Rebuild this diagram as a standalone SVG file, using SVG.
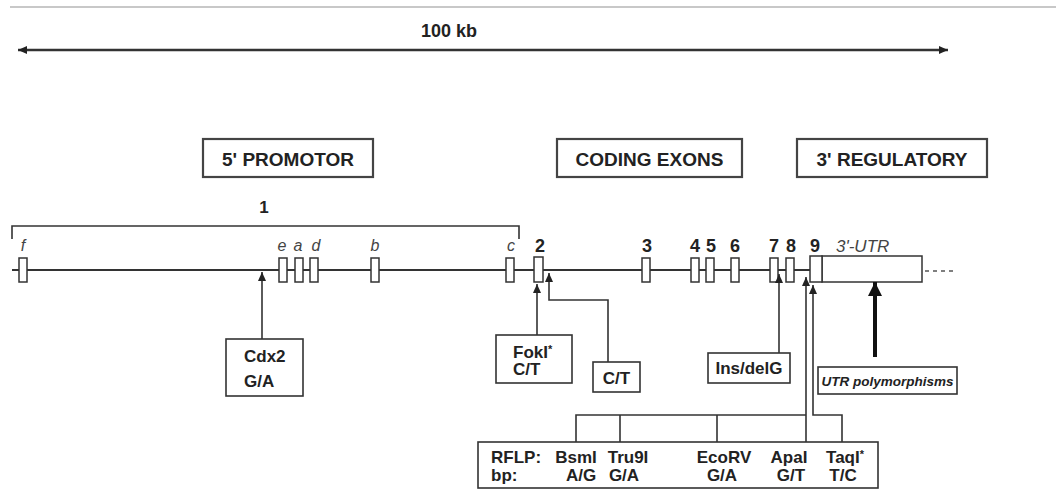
<svg xmlns="http://www.w3.org/2000/svg" width="1056" height="490" viewBox="0 0 1056 490">
<defs>
<marker id="ah" markerUnits="userSpaceOnUse" markerWidth="9" markerHeight="8" refX="9" refY="4" orient="auto-start-reverse"><path d="M0,0 L9,4 L0,8 z" fill="#222"/></marker>
<marker id="ahb" markerUnits="userSpaceOnUse" markerWidth="14" markerHeight="14" refX="14" refY="7" orient="auto"><path d="M0,0 L14,7 L0,14 z" fill="#111"/></marker>
<style>
.t{font-family:"Liberation Sans",Arial,sans-serif;font-weight:bold;fill:#222}
.h{font-size:19px}
.m{font-size:17px}
.n{font-size:18px}
.sup{font-size:11px}
.it{font-family:"Liberation Sans",Arial,sans-serif;font-style:italic;fill:#444}
.box{fill:#fff;stroke:#333;stroke-width:1.6}
.hbox{fill:#fff;stroke:#444;stroke-width:2.2}
.ex{fill:#fff;stroke:#333;stroke-width:1.5}
.ln{fill:none;stroke:#333;stroke-width:1.6}
</style>
</defs>
<rect width="1056" height="490" fill="#fff"/>
<line x1="10" y1="7" x2="1056" y2="7" stroke="#c8c8c8" stroke-width="2"/>
<g id="scale">
<line x1="18" y1="50" x2="948" y2="50" stroke="#333" stroke-width="2.5" marker-start="url(#ah)" marker-end="url(#ah)"/>
<text class="t n" x="449" y="37" text-anchor="middle">100 kb</text>
</g>
<g id="promotor"><rect class="hbox" x="203" y="139" width="170" height="38"/><text class="t h" x="288" y="166" text-anchor="middle">5' PROMOTOR</text></g>
<g id="coding"><rect class="hbox" x="557" y="139" width="185" height="38"/><text class="t h" x="649.5" y="166" text-anchor="middle">CODING EXONS</text></g>
<g id="regulatory"><rect class="hbox" x="797" y="139" width="190" height="38"/><text class="t h" x="892" y="166" text-anchor="middle">3' REGULATORY</text></g>
<g id="bracket1">
<path class="ln" d="M12,239 V226 H519 V239"/>
<text class="t m" x="264" y="213" text-anchor="middle">1</text>
</g>
<g id="gene">
<line x1="12" y1="270" x2="810" y2="270" stroke="#333" stroke-width="1.8"/>
<line x1="925" y1="271" x2="953" y2="271" stroke="#555" stroke-width="1.5" stroke-dasharray="4,4"/>
<rect class="ex" x="19" y="258" width="8" height="24"/>
<rect class="ex" x="279" y="258" width="8" height="24"/>
<rect class="ex" x="295" y="258" width="8" height="24"/>
<rect class="ex" x="310" y="258" width="8" height="24"/>
<rect class="ex" x="371" y="258" width="8" height="24"/>
<rect class="ex" x="506" y="258" width="8" height="24"/>
<rect class="ex" x="534" y="257" width="9" height="25"/>
<rect class="ex" x="642" y="258" width="8" height="24"/>
<rect class="ex" x="691" y="258" width="8" height="24"/>
<rect class="ex" x="706" y="258" width="8" height="24"/>
<rect class="ex" x="731" y="258" width="8" height="24"/>
<rect class="ex" x="770" y="258" width="8" height="24"/>
<rect class="ex" x="786" y="258" width="8" height="24"/>
<rect class="ex" x="822" y="256" width="100" height="26"/>
<rect class="ex" x="810" y="256" width="12" height="26"/>
<g font-size="16">
<text class="it" x="23" y="251" text-anchor="middle">f</text>
<text class="it" x="282" y="251" text-anchor="middle">e</text>
<text class="it" x="298" y="251" text-anchor="middle">a</text>
<text class="it" x="316" y="251" text-anchor="middle">d</text>
<text class="it" x="375" y="251" text-anchor="middle">b</text>
<text class="it" x="511" y="251" text-anchor="middle">c</text>
</g>
<text class="t n" x="540" y="252" text-anchor="middle">2</text>
<text class="t n" x="647" y="252" text-anchor="middle">3</text>
<text class="t n" x="695" y="252" text-anchor="middle">4</text>
<text class="t n" x="711" y="252" text-anchor="middle">5</text>
<text class="t n" x="735" y="252" text-anchor="middle">6</text>
<text class="t n" x="774" y="252" text-anchor="middle">7</text>
<text class="t n" x="791" y="252" text-anchor="middle">8</text>
<text class="t n" x="815" y="252" text-anchor="middle">9</text>
<text class="it" x="836" y="252" font-size="17">3'-UTR</text>
</g>
<g id="connectors">
<line class="ln" x1="262" y1="339" x2="262" y2="272" marker-end="url(#ah)"/>
<line class="ln" x1="537" y1="335" x2="537" y2="284" marker-end="url(#ah)"/>
<path class="ln" d="M608,362 V300 H549 V273" marker-end="url(#ah)"/>
<line class="ln" x1="779" y1="353" x2="779" y2="274" marker-end="url(#ah)"/>
<line class="ln" x1="806" y1="442" x2="806" y2="277" marker-end="url(#ah)"/>
<path class="ln" d="M842,442 V415 H813 V285" marker-end="url(#ah)"/>
<path class="ln" d="M576,442 V415 H806 M620,415 V442 M717,415 V442"/>
<line x1="875" y1="357" x2="875" y2="282" stroke="#111" stroke-width="4" marker-end="url(#ahb)"/>
</g>
<g id="cdx2"><rect class="box" x="226" y="339" width="77" height="57"/><text class="t m" x="244" y="362">Cdx2</text><text class="t m" x="244" y="387">G/A</text></g>
<g id="foki"><rect class="box" x="496" y="335" width="76" height="48"/><text class="t m" x="513" y="358">FokI<tspan class="sup" dy="-5">*</tspan></text><text class="t m" x="513" y="375">C/T</text></g>
<g id="ct"><rect class="box" x="593" y="362" width="47" height="30"/><text class="t m" x="616.5" y="384" text-anchor="middle">C/T</text></g>
<g id="insdel"><rect class="box" x="708" y="353" width="82" height="30"/><text class="t m" x="749" y="374" text-anchor="middle">Ins/delG</text></g>
<g id="utrpoly"><rect class="box" x="818" y="367" width="139" height="27"/><text class="t" x="887.5" y="386" font-size="13.5" font-style="italic" text-anchor="middle">UTR polymorphisms</text></g>
<g id="rflp">
<rect class="box" x="478" y="442" width="400" height="46"/>
<text class="t m" x="491" y="463">RFLP:</text>
<text class="t m" x="491" y="481">bp:</text>
<g text-anchor="middle">
<text class="t m" x="576" y="463">BsmI</text>
<text class="t m" x="628" y="463">Tru9I</text>
<text class="t m" x="724" y="463">EcoRV</text>
<text class="t m" x="789" y="463">ApaI</text>
<text class="t m" x="845" y="463">TaqI<tspan class="sup" dy="-5">*</tspan></text>
<text class="t m" x="581" y="481">A/G</text>
<text class="t m" x="624" y="481">G/A</text>
<text class="t m" x="722" y="481">G/A</text>
<text class="t m" x="791" y="481">G/T</text>
<text class="t m" x="843" y="481">T/C</text>
</g>
</g>
</svg>
